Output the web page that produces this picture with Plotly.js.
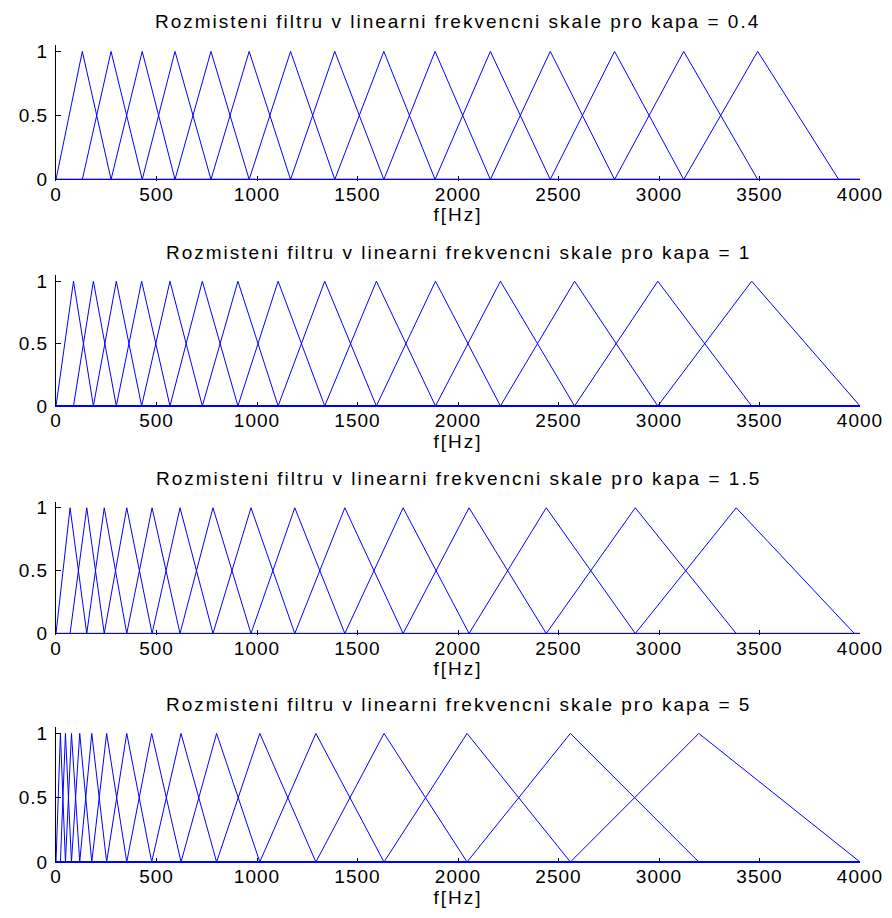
<!DOCTYPE html>
<html>
<head>
<meta charset="utf-8">
<script src="https://cdn.plot.ly/plotly-3.0.1.min.js"></script>
<style>
html,body{margin:0;padding:0;background:#fff;}
#chart{width:892px;height:918px;}
#chart .annotation-text{letter-spacing:2px;}
#chart text[class$="title"]{letter-spacing:2px;}
#chart g[class$="tick"] > text{letter-spacing:1px;}
</style>
</head>
<body>
<div id="chart"></div>
<script>
// Filter edge frequencies (Hz): triangle k goes edges[k-1] -> edges[k] (peak) -> edges[k+1]
const edgesKapa04 = [0,131,274,429,592,771,961,1167,1387,1631,1886,2161,2459,2779,3123,3491,3894];
const edgesKapa1  = [0,87,186,300,426,567,728,905,1105,1337,1594,1888,2211,2580,2994,3461,4000];
const edgesKapa15 = [0,70,153,240,352,478,617,781,970,1188,1437,1727,2055,2439,2882,3384,3972];
const edgesKapa5  = [0,22,47,77,118,178,252,352,476,622,799,1014,1293,1632,2045,2559,3198,4000];

const kapaLabels = ['0.4','1','1.5','5'];
const allEdges = [edgesKapa04, edgesKapa1, edgesKapa15, edgesKapa5];
const fMax = 4000;
const xTickVals = [0,500,1000,1500,2000,2500,3000,3500,4000];
const yTickVals = [0,0.5,1];
const yTickText = ['0','0.5','1'];

const W = 892, H = 918;
const py = p => 1 - p / H;
const px = p => p / W;
// subplot pixel boxes [top, bottom]
const boxes = [[45,180.5],[275,407],[501.5,634.5],[727,863]];
const xL = 56, xR = 860;

const FONT = {family: 'Liberation Sans, Arial, sans-serif', size: 19, color: '#000'};

const traces = [];
const layout = {
  width: W, height: H,
  margin: {l:0, r:0, t:0, b:0},
  paper_bgcolor: '#fff', plot_bgcolor: '#fff',
  showlegend: false,
  font: FONT,
  annotations: []
};

allEdges.forEach((edges, i) => {
  const n = i + 1;
  const xa = 'x' + (n === 1 ? '' : n), ya = 'y' + (n === 1 ? '' : n);
  for (let k = 1; k < edges.length - 1; k++) {
    traces.push({
      type: 'scatter', mode: 'lines',
      x: [0, edges[k-1], edges[k], edges[k+1], fMax],
      y: [0, 0, 1, 0, 0],
      xaxis: xa, yaxis: ya,
      line: {color: '#0000ff', width: 1},
      hoverinfo: 'skip'
    });
  }
  const [top, bot] = boxes[i];
  layout['xaxis' + (n === 1 ? '' : n)] = {
    domain: [px(xL), px(xR)],
    anchor: ya,
    range: [0, fMax],
    tickmode: 'array', tickvals: xTickVals,
    ticks: 'inside', ticklen: 5, tickcolor: '#000', tickwidth: 1,
    showline: false, showgrid: false, zeroline: false,
    layer: 'below traces',
    tickfont: FONT,
    title: {text: 'f[Hz]', font: FONT, standoff: 1}
  };
  layout['yaxis' + (n === 1 ? '' : n)] = {
    domain: [py(bot), py(top)],
    anchor: xa,
    range: [-0.008, 1.05],
    tickmode: 'array', tickvals: yTickVals, ticktext: yTickText,
    ticks: 'inside', ticklen: 5, tickcolor: '#000', tickwidth: 1,
    ticklabelstandoff: 3,
    showline: true, linecolor: '#000', linewidth: 1,
    showgrid: false, zeroline: false,
    layer: 'below traces',
    tickfont: FONT
  };
  layout.annotations.push({
    text: 'Rozmisteni filtru v linearni frekvencni skale pro kapa = ' + kapaLabels[i],
    xref: 'paper', yref: 'paper',
    x: px((xL + xR) / 2), y: py(top - 23),
    xanchor: 'center', yanchor: 'middle',
    showarrow: false, font: FONT
  });
});

Plotly.newPlot('chart', traces, layout, {displayModeBar: false, staticPlot: true});
</script>
</body>
</html>
